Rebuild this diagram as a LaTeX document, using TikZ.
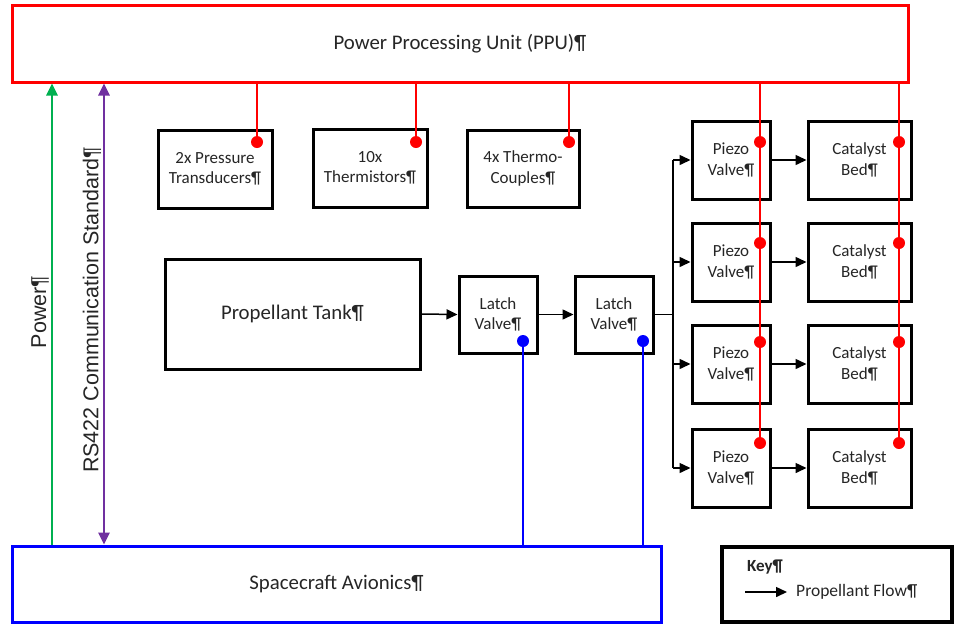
\documentclass[tikz,border=0pt]{standalone}
\usepackage{fontspec}
\setmainfont{Carlito}
\newfontfamily\arialfont{Liberation Sans}
\usetikzlibrary{arrows.meta}

\definecolor{ppured}{HTML}{FF0000}
\definecolor{avblue}{HTML}{0000FF}
\definecolor{pwrgreen}{HTML}{00B050}
\definecolor{rspurple}{HTML}{7030A0}
\definecolor{inktext}{HTML}{262626}

\begin{document}
\begin{tikzpicture}[x=1pt,y=-1pt,
  box/.style={draw=black, line width=3pt, fill=white, inner sep=0pt, align=center,
              text=inktext, font=\fontsize{17}{20.5}\selectfont},
  bigbox/.style={box, font=\fontsize{20.8}{24}\selectfont},
  smallbox/.style={box, minimum width=78pt, minimum height=78pt},
  catbox/.style={box, minimum width=103pt, minimum height=78pt},
  sensbox/.style={box, minimum width=114pt, minimum height=78pt},
  rdot/.style={circle, fill=ppured, inner sep=0pt, minimum size=12pt},
  bdot/.style={circle, fill=avblue, inner sep=0pt, minimum size=12pt},
  redline/.style={draw=ppured, line width=1.3pt},
  blueline/.style={draw=avblue, line width=1.3pt},
  flow/.style={draw=black, line width=1.5pt, -{Triangle[length=11pt,width=10pt]}},
  flowline/.style={draw=black, line width=1.5pt},
  sidelabel/.style={rotate=90, text=inktext, font=\arialfont\fontsize{21.5}{24}\selectfont, inner sep=0pt}
]
\useasboundingbox (0,0) rectangle (955,625);

% main units
\node[bigbox, draw=ppured, minimum width=896pt, minimum height=77pt] (ppu) at (460,43.5) {Power Processing Unit (PPU)¶};
\node[bigbox, draw=avblue, minimum width=649pt, minimum height=76pt] (av) at (336.5,584) {Spacecraft Avionics¶};

% sensors
\node[sensbox] (press) at (215,169) {2x Pressure\\Transducers¶};
\node[sensbox] (therm) at (370,168) {10x\\Thermistors¶};
\node[box, minimum width=112pt, minimum height=77pt] (tc) at (523,168.5) {4x Thermo-\\Couples¶};

% propellant feed
\node[bigbox, minimum width=255pt, minimum height=110pt] (tank) at (292.5,314) {Propellant Tank¶};
\node[smallbox, minimum height=77pt] (lv1) at (498,314.5) {Latch\\Valve¶};
\node[smallbox, minimum height=77pt] (lv2) at (614,314.5) {Latch\\Valve¶};

% thruster branches
\node[smallbox] (pv1) at (731,160) {Piezo\\Valve¶};
\node[smallbox] (pv2) at (731,262) {Piezo\\Valve¶};
\node[smallbox] (pv3) at (731,364) {Piezo\\Valve¶};
\node[smallbox] (pv4) at (731,468) {Piezo\\Valve¶};
\node[catbox] (cb1) at (859.5,160) {Catalyst\\Bed¶};
\node[catbox] (cb2) at (859.5,262) {Catalyst\\Bed¶};
\node[catbox] (cb3) at (859.5,364) {Catalyst\\Bed¶};
\node[catbox] (cb4) at (859.5,468) {Catalyst\\Bed¶};

% key
\node[box, line width=3.5pt, minimum width=230pt, minimum height=75pt] (key) at (837,584.5) {};
\node[anchor=west, inner sep=0pt, text=inktext, font=\bfseries\fontsize{17}{20}\selectfont] (keyt) at (747,567) {Key¶};
\coordinate (ka) at (745,592);
\coordinate (kb) at (787,592);
\node[anchor=west, inner sep=0pt, text=inktext, font=\fontsize{17.5}{20}\selectfont] (keyf) at (796,592) {Propellant Flow¶};
\draw[flow] (ka) -- (kb);

% propellant flow
\coordinate (bus) at (673,314.5);
\draw[flow] (tank.east) -- (lv1.west);
\draw[flow] (lv1.east) -- (lv2.west);
\draw[flowline] (lv2.east) -- (bus);
\draw[flowline] (bus |- pv1.west) -- (bus |- pv4.west);
\foreach \i in {1,2,3,4}{
  \draw[flow] (bus |- pv\i.west) -- (pv\i.west);
  \draw[flow] (pv\i.east) -- (cb\i.west);
}

% power and data links
\coordinate (pwr) at (52,0);
\coordinate (rs) at (104,0);
\draw[draw=pwrgreen, line width=2.5pt, -{Triangle[length=12pt,width=11pt]}] (av.north -| pwr) -- (ppu.south -| pwr);
\draw[draw=rspurple, line width=2.5pt, {Triangle[length=12pt,width=11pt]}-{Triangle[length=12pt,width=11pt]}] (av.north -| rs) -- (ppu.south -| rs);
\node[sidelabel] (pwrlab) at (40,312) {Power¶};
\node[sidelabel] (rslab) at (92,310) {RS422 Communication Standard¶};

% PPU harness to sensors
\node[rdot] (pd1) at (257,142) {};
\node[rdot] (pd2) at (416,142) {};
\node[rdot] (pd3) at (569,142) {};
\foreach \d in {pd1,pd2,pd3}{
  \draw[redline] (ppu.south -| \d) -- (\d.center);
}

% PPU harness to piezo valves and catalyst beds
\node[rdot] (pvd1) at (760,142) {};
\node[rdot] (pvd2) at (760,243) {};
\node[rdot] (pvd3) at (760,342) {};
\node[rdot] (pvd4) at (760,443) {};
\node[rdot] (cbd1) at (899,142) {};
\node[rdot] (cbd2) at (899,243) {};
\node[rdot] (cbd3) at (899,342) {};
\node[rdot] (cbd4) at (899,443) {};
\draw[redline] (ppu.south -| pvd4) -- (pvd4.center);
\draw[redline] (ppu.south -| cbd4) -- (cbd4.center);

% avionics to latch valves
\node[bdot] (ld1) at (523,341) {};
\node[bdot] (ld2) at (643,341) {};
\draw[blueline] (ld1.center) -- (av.north -| ld1);
\draw[blueline] (ld2.center) -- (av.north -| ld2);
\end{tikzpicture}
\end{document}
